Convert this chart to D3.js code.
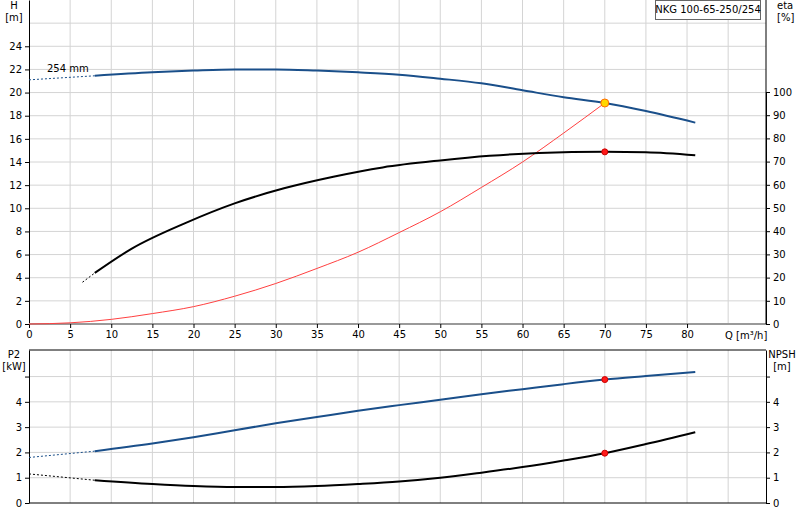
<!DOCTYPE html>
<html><head><meta charset="utf-8">
<script src="https://cdn.jsdelivr.net/npm/d3@7"></script>
<style>body{margin:0;background:#fff}text{font-family:"DejaVu Sans",sans-serif;font-size:10px;fill:#000}</style>
</head><body><svg id="c" width="800" height="520"></svg>
<script>
var qTicks = [0,5,10,15,20,25,30,35,40,45,50,55,60,65,70,75,80];
var hTicks = [0,2,4,6,8,10,12,14,16,18,20,22,24];
var etaTicks = [0,10,20,30,40,50,60,70,80,90,100];
var lowTicks = [0,1,2,3,4];

var hQ = [8,15,20,25,30,35,40,45,50,55,60,65,70,75,81];
var hVal = [21.45,21.75,21.9,22.0,22.0,21.9,21.75,21.55,21.2,20.8,20.2,19.6,19.1,18.4,17.4];
var hDash = [[0,21.1],[8,21.45]];

var etaQ = [8,12.5,19,25,31,37,43,50,56,62,70,75,81];
var etaVal = [22,32.5,43.5,52,58.5,63.5,67.5,70.5,72.5,73.7,74.2,74,72.7];
var etaDash = [[6.5,18],[8,22]];

var sysQ = [0,5,10,15,20,25,30,35,40,45,50,55,60,65,70];
var sysH = [0,0.1,0.4,0.9,1.5,2.4,3.5,4.8,6.2,7.9,9.7,11.8,14.0,16.5,19.1];

var p2Q = [8,15,20,25,30,35,40,45,50,55,60,65,70,75,81];
var p2Val = [2.05,2.35,2.6,2.88,3.15,3.4,3.65,3.87,4.08,4.3,4.5,4.7,4.88,5.02,5.18];
var p2Dash = [[0,1.8],[8,2.05]];

var npshQ = [8,15,20,25,30,35,40,45,50,55,60,65,70,75,81];
var npshVal = [0.9,0.75,0.67,0.63,0.63,0.67,0.75,0.85,1.0,1.2,1.42,1.68,1.97,2.33,2.8];
var npshDash = [[0,1.15],[8,0.9]];

var dutyQ = 70;

var svg = d3.select("#c");
var L = 29, R = 766;
var x = d3.scaleLinear().domain([0,89.6]).range([L,R]);
var yH = d3.scaleLinear().domain([0,28]).range([324,0]);
var yE = d3.scaleLinear().domain([0,100]).range([324,92]);
var yB = d3.scaleLinear().domain([0,6.05]).range([503,350]);

function grid(y0,y1,yScale,vals){
  var g = svg.append("g").attr("stroke","#d4d4d4").attr("stroke-width",1);
  qTicks.concat([85]).forEach(function(q){ if(q>0) g.append("line").attr("x1",x(q)).attr("x2",x(q)).attr("y1",y0).attr("y2",y1); });
  vals.forEach(function(v){ g.append("line").attr("x1",L).attr("x2",R).attr("y1",yScale(v)).attr("y2",yScale(v)); });
}
grid(0,324,yH,[2,4,6,8,10,12,14,16,18,20,22,24,26]);
grid(350,503,yB,[1,2,3,4,5]);

// top axes
svg.append("g").attr("transform","translate("+L+",0)").call(d3.axisLeft(yH).tickValues(hTicks).tickSize(4).tickSizeOuter(0));
svg.append("g").attr("transform","translate("+R+",0)").call(d3.axisRight(yE).tickValues(etaTicks).tickSize(4).tickSizeOuter(0));
svg.append("line").attr("x1",L).attr("x2",R).attr("y1",324).attr("y2",324).attr("stroke","#999").attr("stroke-width",2);
svg.append("g").attr("transform","translate(0,324)").call(d3.axisBottom(x).tickValues(qTicks).tickSize(4).tickSizeOuter(0)).select(".domain").remove();
svg.append("line").attr("x1",R).attr("x2",R).attr("y1",0).attr("y2",324).attr("stroke","#000");

// bottom axes
svg.append("g").attr("transform","translate("+L+",0)").call(d3.axisLeft(yB).tickValues(lowTicks.concat([5])).tickFormat(function(d){return d<5?d:"";}).tickSize(4).tickSizeOuter(0));
svg.append("g").attr("transform","translate("+R+",0)").call(d3.axisRight(yB).tickValues(lowTicks.concat([5])).tickFormat(function(d){return d<5?d:"";}).tickSize(4).tickSizeOuter(0));
svg.append("line").attr("x1",L).attr("x2",R).attr("y1",350).attr("y2",350).attr("stroke","#000");
svg.append("line").attr("x1",L).attr("x2",R).attr("y1",503).attr("y2",503).attr("stroke","#000");
svg.selectAll(".tick text").style("font-size","10px");

// labels
function txt(t,xx,yy,anchor){ svg.append("text").attr("x",xx).attr("y",yy).attr("text-anchor",anchor||"middle").text(t); }
txt("H",14,9); txt("[m]",14,21);
txt("eta",777,9,"start"); txt("[%]",777,21,"start");
txt("P2",14,358); txt("[kW]",14,370);
txt("NPSH",782,358); txt("[m]",782,370);
txt("Q [m³/h]",x(85)+18,339);
txt("254 mm",47,72,"start");
svg.append("rect").attr("x",655.5).attr("y",0.5).attr("width",105).attr("height",19).attr("fill","#fff").attr("stroke","#666");
txt("NKG 100-65-250/254",708,13);

function draw(xs,ys,ys2,color,w,dash){
  var pts = xs.map(function(q,i){return [x(q),ys2(ys[i])];});
  svg.append("path").attr("d",d3.line().curve(d3.curveMonotoneX)(pts)).attr("fill","none").attr("stroke",color).attr("stroke-width",w).attr("stroke-dasharray",dash||null);
}
function dash(pairs,ys2,color){
  draw(pairs.map(function(p){return p[0];}),pairs.map(function(p){return p[1];}),ys2,color,1,"2,2");
}
draw(sysQ,sysH,yH,"#ff4040",1);
dash(hDash,yH,"#1a4f8a"); draw(hQ,hVal,yH,"#1a4f8a",2);
dash(etaDash,yE,"#000"); draw(etaQ,etaVal,yE,"#000",2);
dash(p2Dash,yB,"#1a4f8a"); draw(p2Q,p2Val,yB,"#1a4f8a",2);
dash(npshDash,yB,"#000"); draw(npshQ,npshVal,yB,"#000",2);

function dot(q,v,ys2,fill,stroke,r){
  svg.append("circle").attr("cx",x(q)).attr("cy",ys2(v)).attr("r",r).attr("fill",fill).attr("stroke",stroke);
}
dot(dutyQ,hVal[hQ.indexOf(70)],yH,"#ffd700","#ff6a00",4);
dot(dutyQ,etaVal[etaQ.indexOf(70)],yE,"#ff1a1a","#cc0000",3);
dot(dutyQ,p2Val[p2Q.indexOf(70)],yB,"#ff1a1a","#cc0000",3);
dot(dutyQ,npshVal[npshQ.indexOf(70)],yB,"#ff1a1a","#cc0000",3);
</script></body></html>
